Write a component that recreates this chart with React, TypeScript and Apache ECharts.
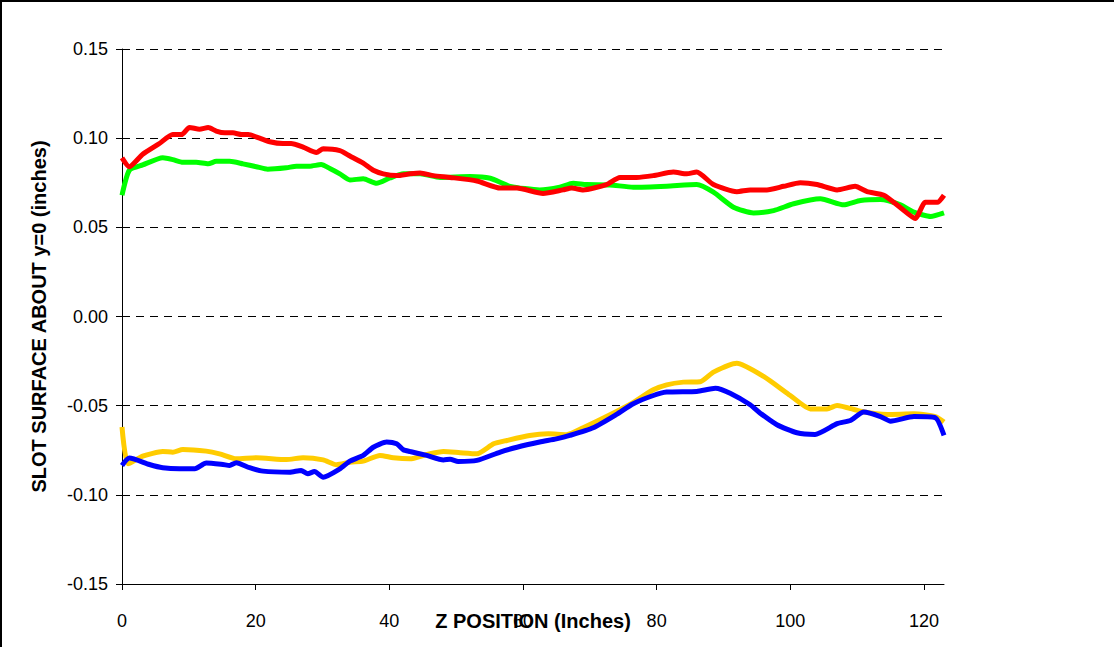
import React, { useEffect, useRef } from "react";
import * as echarts from "echarts";

const redZ = [0, 1.1, 3.1, 5.6, 7.6, 8.9, 10.1, 11.6, 12.9, 14.1, 15.4, 16.6, 17.9, 18.9, 20.6, 22.1, 24.1, 25.3, 27.1, 29.1, 30.1, 32.6, 34.1, 36.1, 37.6, 39.1, 41.1, 43.1, 44.6, 46.6, 49.1, 53.1, 56.6, 59.1, 63.0, 66.0, 67.3, 69.0, 72.5, 74.5, 77.0, 79.5, 82.5, 84.5, 86.0, 88.5, 92.0, 94.0, 96.5, 99.0, 101.5, 104.0, 107.0, 109.7, 111.5, 114.0, 116.5, 118.7, 120.2, 122.0, 123.0];
const redY = [0.089, 0.084, 0.091, 0.097, 0.102, 0.102, 0.106, 0.105, 0.106, 0.104, 0.103, 0.103, 0.102, 0.102, 0.1, 0.098, 0.097, 0.097, 0.095, 0.092, 0.094, 0.093, 0.09, 0.086, 0.082, 0.08, 0.079, 0.08, 0.0805, 0.079, 0.078, 0.076, 0.072, 0.072, 0.069, 0.071, 0.072, 0.071, 0.074, 0.078, 0.078, 0.079, 0.081, 0.08, 0.081, 0.074, 0.07, 0.071, 0.071, 0.073, 0.075, 0.074, 0.071, 0.073, 0.07, 0.068, 0.061, 0.055, 0.064, 0.064, 0.068];

const greenZ = [0, 1.1, 3.1, 6.1, 7.6, 9.1, 11.1, 12.9, 14.1, 16.1, 18.1, 20.1, 21.8, 24.6, 26.1, 28.1, 29.8, 31.1, 32.6, 34.1, 36.1, 38.1, 40.1, 42.1, 44.6, 47.6, 52.1, 55.1, 58.1, 62.5, 65.5, 67.5, 69.5, 73.0, 76.5, 81.5, 86.0, 88.5, 91.5, 94.5, 97.5, 100.5, 104.5, 108.0, 110.5, 113.5, 116.5, 118.5, 121.0, 123.0];
const greenY = [0.068, 0.082, 0.085, 0.089, 0.088, 0.0865, 0.0865, 0.0856, 0.087, 0.087, 0.0856, 0.084, 0.0826, 0.0834, 0.0843, 0.0843, 0.0852, 0.083, 0.08, 0.0766, 0.0772, 0.0747, 0.0777, 0.08, 0.08, 0.078, 0.0785, 0.0775, 0.073, 0.071, 0.0725, 0.0747, 0.074, 0.0738, 0.0725, 0.0731, 0.074, 0.0697, 0.0613, 0.0581, 0.0594, 0.0632, 0.066, 0.0626, 0.065, 0.0656, 0.0626, 0.0585, 0.0561, 0.0581];

const yellowZ = [0, 0.9, 3.1, 6.1, 7.6, 9.1, 12.6, 14.6, 17.1, 20.1, 24.6, 27.1, 30.1, 32.1, 34.1, 36.1, 38.6, 40.6, 43.1, 45.6, 48.1, 50.6, 53.1, 55.6, 57.6, 61.0, 63.8, 66.5, 69.0, 72.5, 76.0, 79.5, 81.5, 84.0, 86.5, 88.5, 92.0, 96.0, 100.0, 103.0, 105.5, 107.0, 110.5, 114.5, 118.5, 121.7, 123.0];
const yellowY = [-0.062, -0.0826, -0.0783, -0.0757, -0.0761, -0.0746, -0.0755, -0.077, -0.0798, -0.0792, -0.0802, -0.0792, -0.0804, -0.0831, -0.0817, -0.0811, -0.0779, -0.0792, -0.0798, -0.0774, -0.0757, -0.0764, -0.077, -0.0714, -0.0695, -0.0667, -0.0658, -0.0663, -0.0624, -0.0561, -0.0493, -0.0411, -0.0383, -0.0368, -0.0366, -0.0312, -0.0262, -0.0336, -0.0443, -0.0518, -0.0518, -0.0499, -0.0531, -0.0549, -0.0546, -0.0561, -0.0592];

const blueZ = [0, 1.1, 4.1, 6.1, 8.6, 10.9, 12.6, 15.1, 16.1, 17.1, 19.1, 21.1, 25.1, 26.8, 27.8, 28.8, 30.1, 32.6, 34.1, 36.1, 37.6, 39.6, 41.1, 42.1, 43.1, 45.6, 48.1, 49.1, 50.3, 53.1, 56.6, 59.1, 62.5, 65.0, 67.0, 70.5, 74.0, 76.5, 79.5, 81.5, 86.0, 88.8, 91.0, 94.0, 95.5, 98.0, 101.0, 103.7, 107.0, 109.0, 111.0, 113.5, 115.0, 118.5, 121.7, 123.0];
const blueY = [-0.0835, -0.0794, -0.083, -0.0848, -0.0854, -0.0854, -0.0822, -0.083, -0.0835, -0.082, -0.0848, -0.0867, -0.0873, -0.0863, -0.0882, -0.0869, -0.0901, -0.0854, -0.0811, -0.0779, -0.0733, -0.0704, -0.0714, -0.0747, -0.0757, -0.0779, -0.0804, -0.08, -0.0813, -0.0807, -0.076, -0.0733, -0.0704, -0.0686, -0.0667, -0.0624, -0.0549, -0.0489, -0.0443, -0.0424, -0.042, -0.0402, -0.043, -0.0495, -0.0542, -0.0607, -0.0652, -0.0661, -0.0601, -0.0583, -0.0536, -0.0561, -0.0587, -0.0561, -0.0568, -0.0667];

const xTitle = "Z POSITION (Inches)";
const yTitle = "SLOT SURFACE ABOUT y=0 (inches)";

const zip = (xs: number[], ys: number[]) => xs.map((x, i) => [x, ys[i]]);

export default function App() {
  const ref = useRef<HTMLDivElement>(null);
  useEffect(() => {
    document.body.style.margin = "0";
    const chart = echarts.init(ref.current!, undefined, { renderer: "svg" });
    const font = "Arial, 'Liberation Sans', sans-serif";
    const mk = (name: string, color: string, data: number[][]) => ({
      name,
      type: "line",
      data,
      showSymbol: false,
      smooth: 0.2,
      lineStyle: { color, width: 5 },
      itemStyle: { color },
    });
    chart.setOption({
      animation: false,
      backgroundColor: "#fff",
      textStyle: { fontFamily: font },
      grid: { left: 122, right: 170, top: 49, bottom: 63, containLabel: false, outerBoundsMode: "none" },
      graphic: [
        {
          type: "rect",
          shape: { x: 1, y: 1, width: 1300, height: 800 },
          style: { fill: "none", stroke: "#000", lineWidth: 2 },
          silent: true,
        },
      ],
      xAxis: {
        type: "value",
        min: 0,
        max: 123,
        interval: 20,
        name: xTitle,
        nameLocation: "middle",
        nameGap: 27,
        nameMoveOverlap: false,
        nameTextStyle: { fontSize: 20, fontWeight: "bold", color: "#000", fontFamily: font },
        axisLine: { onZero: false, lineStyle: { color: "#000", width: 1 } },
        axisTick: { show: true, length: 6, lineStyle: { color: "#000" } },
        axisLabel: { margin: 28, fontSize: 18, color: "#000", fontFamily: font, showMaxLabel: false },
        splitLine: { show: false },
      },
      yAxis: {
        type: "value",
        min: -0.15,
        max: 0.15,
        interval: 0.05,
        name: yTitle,
        nameLocation: "middle",
        nameGap: 73,
        nameRotate: 90,
        nameMoveOverlap: false,
        nameTextStyle: { fontSize: 20, fontWeight: "bold", color: "#000", fontFamily: font },
        axisLine: { show: true, onZero: false, lineStyle: { color: "#000", width: 1 } },
        axisTick: { show: true, length: 6, lineStyle: { color: "#000" } },
        axisLabel: {
          margin: 14,
          fontSize: 18,
          color: "#000",
          fontFamily: font,
          formatter: (v: number) => v.toFixed(2),
        },
        splitLine: { show: true, lineStyle: { color: "#000", width: 1, type: [8, 6] } },
      },
      series: [
        mk("Yellow", "#FFCC00", zip(yellowZ, yellowY)),
        mk("Blue", "#0000FF", zip(blueZ, blueY)),
        mk("Green", "#00FF00", zip(greenZ, greenY)),
        mk("Red", "#FF0000", zip(redZ, redY)),
      ],
    });
    return () => chart.dispose();
  }, []);
  return <div ref={ref} style={{ width: 1114, height: 647 }} />;
}
